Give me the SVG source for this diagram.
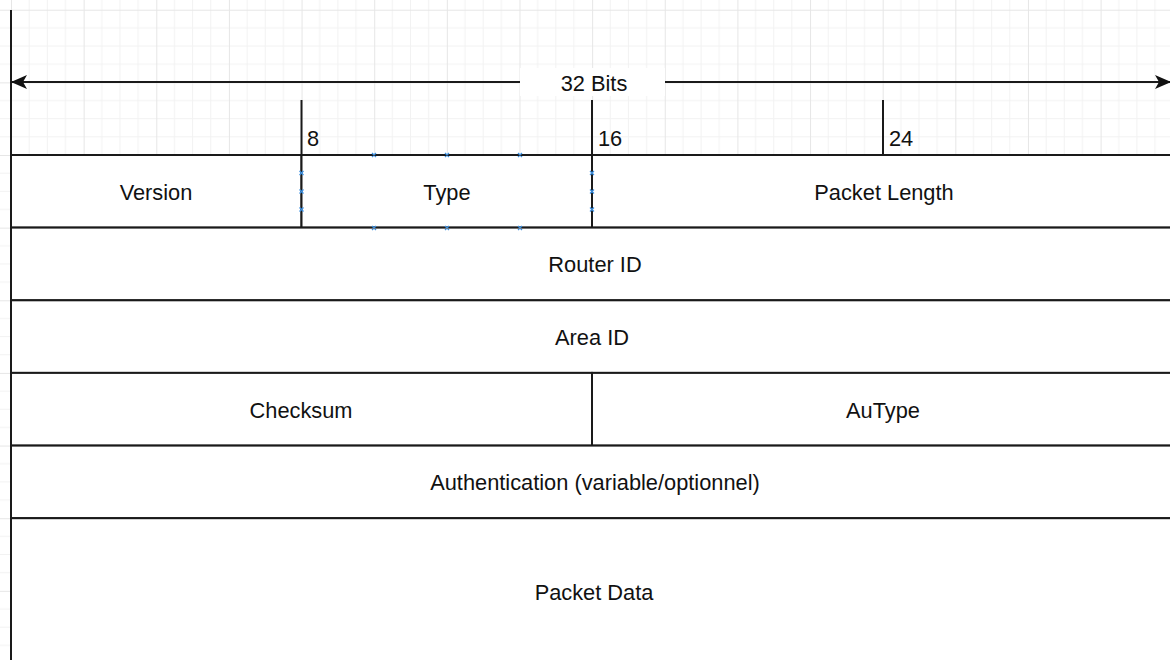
<svg xmlns="http://www.w3.org/2000/svg" width="1170" height="660" viewBox="0 0 1170 660">
  <defs>
    <pattern id="grid" patternUnits="userSpaceOnUse" x="11" y="155" width="72.64" height="72.64">
      <path d="M18.16 0V72.64M36.32 0V72.64M54.48 0V72.64M0 18.16H72.64M0 36.32H72.64M0 54.48H72.64" stroke="#f2f2f2" stroke-width="1" fill="none"/>
      <path d="M0.5 0V72.64M0 0.5H72.64" stroke="#e6e6e6" stroke-width="1" fill="none"/>
    </pattern>
    <marker id="arr" viewBox="0 0 16 14" refX="15" refY="7" markerWidth="16" markerHeight="14" markerUnits="userSpaceOnUse" orient="auto-start-reverse">
      <path d="M0 0L16 7L0 14L4 7Z" fill="#111"/>
    </marker>
  </defs>
  <style>
    .cell { fill: #ffffff; stroke: #1a1a1a; stroke-width: 2; }
    .ln { stroke: #1a1a1a; stroke-width: 2; fill: none; }
    .lbl { font-family: "Liberation Sans", Arial, sans-serif; font-size: 21.8px; fill: #111; text-anchor: middle; }
    .tick { font-family: "Liberation Sans", Arial, sans-serif; font-size: 21.8px; fill: #111; text-anchor: start; }
    .pt { stroke: #3b8fe0; stroke-width: 1.2; fill: none; }
  </style>
  <rect x="0" y="0" width="1170" height="660" fill="#ffffff"/>
  <rect x="0" y="0" width="1170" height="660" fill="url(#grid)"/>

  <g id="version"><rect class="cell" x="11" y="155" width="290.5" height="72.6"/><text class="lbl" x="156" y="199.5">Version</text></g>
  <g id="type"><rect class="cell" x="301.5" y="155" width="290.5" height="72.6"/><text class="lbl" x="447" y="199.5">Type</text></g>
  <g id="packet-length"><rect class="cell" x="592" y="155" width="590" height="72.6"/><text class="lbl" x="884" y="199.5">Packet Length</text></g>
  <g id="router-id"><rect class="cell" x="11" y="227.6" width="1171" height="72.7"/><text class="lbl" x="595" y="272">Router ID</text></g>
  <g id="area-id"><rect class="cell" x="11" y="300.3" width="1171" height="72.6"/><text class="lbl" x="592" y="344.8">Area ID</text></g>
  <g id="checksum"><rect class="cell" x="11" y="372.9" width="581" height="72.7"/><text class="lbl" x="301" y="417.5">Checksum</text></g>
  <g id="autype"><rect class="cell" x="592" y="372.9" width="590" height="72.7"/><text class="lbl" x="883" y="417.5">AuType</text></g>
  <g id="authentication"><rect class="cell" x="11" y="445.6" width="1171" height="72.6"/><text class="lbl" x="595" y="490.2">Authentication (variable/optionnel)</text></g>
  <g id="packet-data"><rect class="cell" x="11" y="518.2" width="1171" height="160"/><text class="lbl" x="594" y="599.5">Packet Data</text></g>

  <g id="connectors">
    <line class="ln" x1="11" y1="10" x2="11" y2="660"/>
    <line class="ln" x1="12" y1="82" x2="1170" y2="82" marker-start="url(#arr)" marker-end="url(#arr)"/>
    <line class="ln" x1="301.5" y1="100" x2="301.5" y2="155"/>
    <line class="ln" x1="592" y1="100" x2="592" y2="155"/>
    <line class="ln" x1="883" y1="100" x2="883" y2="155"/>
  </g>

  <g id="bits-label">
    <rect x="520" y="68" width="145" height="28" fill="#ffffff"/>
    <text class="lbl" x="594" y="91">32 Bits</text>
  </g>
  <g id="tick-labels">
    <text class="tick" x="307" y="146">8</text>
    <text class="tick" x="598" y="146">16</text>
    <text class="tick" x="889" y="146">24</text>
  </g>

  <g id="selection-points">
    <path class="pt" d="M372 153l4 4M376 153l-4 4M445 153l4 4M449 153l-4 4M518 153l4 4M522 153l-4 4"/>
    <path class="pt" d="M372 226l4 4M376 226l-4 4M445 226l4 4M449 226l-4 4M518 226l4 4M522 226l-4 4"/>
    <path class="pt" d="M299.5 171l4 4M303.5 171l-4 4M299.5 189.5l4 4M303.5 189.5l-4 4M299.5 207.5l4 4M303.5 207.5l-4 4"/>
    <path class="pt" d="M590 171l4 4M594 171l-4 4M590 189.5l4 4M594 189.5l-4 4M590 207.5l4 4M594 207.5l-4 4"/>
  </g>
</svg>
